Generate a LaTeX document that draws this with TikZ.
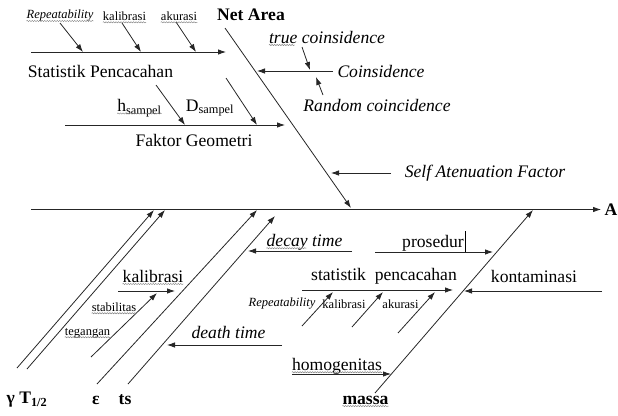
\documentclass[tikz,border=0pt]{standalone}
\usepackage{fontspec}
\setmainfont{Liberation Serif}
\usetikzlibrary{arrows.meta,decorations.pathmorphing}
\begin{document}
\begin{tikzpicture}[x=1pt,y=-1pt,
  ln/.style={line width=0.8pt, draw=black!85},
  arr/.style={ln, -{Latex[length=8pt,width=5.5pt]}},
  big/.style={font=\fontsize{17.6}{20}\selectfont, inner sep=0},
  bigi/.style={font=\fontsize{17.6}{20}\selectfont\itshape, inner sep=0},
  bigb/.style={font=\fontsize{17.6}{20}\selectfont\bfseries, inner sep=0},
  sm/.style={font=\fontsize{12.5}{14}\selectfont, inner sep=0},
  smi/.style={font=\fontsize{12.5}{14}\selectfont\itshape, inner sep=0},
  wavy/.style={draw=gray, line width=0.45pt, decorate, decoration={snake, amplitude=0.6pt, segment length=2.5pt}}
]
\useasboundingbox (0,0) rectangle (618,415);

% ---------- spine ----------
\coordinate (s0) at (31,209.5);
\coordinate (s1) at (601,209.5);
\draw[arr] (s0) -- (s1);
\node[bigb] (A) at (611,210) {A};

% ---------- Statistik Pencacahan (top) ----------
\coordinate (b1a) at (31,52); \coordinate (b1b) at (226,52);
\draw[arr] (b1a) -- (b1b);
\node[big] (sp) at (100.5,71.5) {Statistik Pencacahan};
\node[smi] (rep1) at (60,16) {Repeatability};
\node[sm] (kal1) at (124.5,16) {kalibrasi};
\node[sm] (aku1) at (179,16) {akurasi};
\coordinate (r1a) at (60,23); \coordinate (r1b) at (83,52);
\coordinate (k1a) at (122,23); \coordinate (k1b) at (141,52);
\coordinate (a1a) at (176,22); \coordinate (a1b) at (196,52);
\draw[arr] (r1a) -- (r1b);
\draw[arr] (k1a) -- (k1b);
\draw[arr] (a1a) -- (a1b);

% ---------- Net Area ----------
\node[bigb] (na) at (251,15) {Net Area};
\coordinate (n0) at (225,28); \coordinate (n1) at (351,208);
\draw[arr] (n0) -- (n1);

% ---------- Coinsidence ----------
\coordinate (c0) at (333,71); \coordinate (c1) at (257,71);
\draw[arr] (c0) -- (c1);
\node[bigi] (coin) at (381,71) {Coinsidence};
\node[bigi] (tc) at (327,37) {true coinsidence};
\coordinate (tc0) at (302,47); \coordinate (tc1) at (310,70);
\draw[arr] (tc0) -- (tc1);
\node[bigi] (rc) at (377,105) {Random coincidence};
\coordinate (rc0) at (323,95); \coordinate (rc1) at (316,77);
\draw[arr] (rc0) -- (rc1);

% ---------- Faktor Geometri ----------
\coordinate (f0) at (65,125); \coordinate (f1) at (285,125);
\draw[arr] (f0) -- (f1);
\node[big] (fg) at (194,140) {Faktor Geometri};
\node[big] (hs) at (139.5,108) {h\textsubscript{sampel}};
\node[big] (ds) at (210,108) {D\textsubscript{sampel}};
\coordinate (h0) at (156,85); \coordinate (h1) at (185,125);
\coordinate (d0) at (226,78); \coordinate (d1) at (257,125);
\draw[arr] (h0) -- (h1);
\draw[arr] (d0) -- (d1);

% ---------- Self Atenuation Factor ----------
\coordinate (sa0) at (391,173); \coordinate (sa1) at (331,173);
\draw[arr] (sa0) -- (sa1);
\node[bigi] (saf) at (485,173) {Self Atenuation Factor};

% ---------- bottom diagonals ----------
\coordinate (g0) at (17,368); \coordinate (g1) at (154,210);
\coordinate (t0) at (27,369); \coordinate (t1) at (165,210);
\coordinate (e0) at (97,384); \coordinate (e1) at (257,210);
\coordinate (ts0) at (128,384); \coordinate (ts1) at (275,216);
\draw[arr] (g0) -- (g1);
\draw[arr] (t0) -- (t1);
\draw[arr] (e0) -- (e1);
\draw[arr] (ts0) -- (ts1);
\node[bigb] (gt) at (27,400) {γ T\textsubscript{1/2}};
\node[bigb] (eps) at (96,400) {ε};
\node[bigb] (tsl) at (125,400) {ts};

% kalibrasi group
\coordinate (st0) at (91,357); \coordinate (st1) at (157,293);
\draw[arr] (st0) -- (st1);
\coordinate (ka0) at (118,291); \coordinate (ka1) at (175,291);
\draw[arr] (ka0) -- (ka1);
\node[big] (kal2) at (153,276) {kalibrasi};
\node[sm] (stab) at (114,307) {stabilitas};
\node[sm] (teg) at (87.5,333) {tegangan};

% decay time
\coordinate (dc0) at (352,251); \coordinate (dc1) at (248,251);
\draw[arr] (dc0) -- (dc1);
\node[bigi] (decay) at (304.5,242) {decay time};

% prosedur
\coordinate (p0) at (375,252); \coordinate (p1) at (493,252);
\draw[arr] (p0) -- (p1);
\node[big] (pros) at (433,243) {prosedur};
\coordinate (cur0) at (465.5,231); \coordinate (cur1) at (465.5,252);
\draw[line width=1.3pt] (cur0) -- (cur1);

% statistik pencacahan (bottom)
\coordinate (sp0) at (302,290); \coordinate (sp1) at (453,290);
\draw[arr] (sp0) -- (sp1);
\node[big] (sp2) at (384,276) {statistik\ \ pencacahan};
\node[smi] (rep2) at (282,304) {Repeatability};
\node[sm] (kal3) at (344,304) {kalibrasi};
\node[sm] (aku2) at (400.5,304) {akurasi};
\coordinate (r2a) at (302,326); \coordinate (r2b) at (333,292);
\coordinate (k2a) at (352,327); \coordinate (k2b) at (383,292);
\coordinate (a2a) at (398,333); \coordinate (a2b) at (435,292);
\draw[arr] (r2a) -- (r2b);
\draw[arr] (k2a) -- (k2b);
\draw[arr] (a2a) -- (a2b);

% kontaminasi
\coordinate (ko0) at (602,291); \coordinate (ko1) at (464,291);
\draw[arr] (ko0) -- (ko1);
\node[big] (kont) at (534,276) {kontaminasi};

% massa
\coordinate (m0) at (375,393); \coordinate (m1) at (533,210);
\draw[arr] (m0) -- (m1);
\node[bigb] (mas) at (365.5,400) {massa};

% homogenitas
\coordinate (ho0) at (292,374); \coordinate (ho1) at (391,374);
\draw[arr] (ho0) -- (ho1);
\node[big] (hom) at (337,366) {homogenitas};

% death time
\coordinate (de0) at (282,345); \coordinate (de1) at (167,345);
\draw[arr] (de0) -- (de1);
\node[bigi] (death) at (228.5,332) {death time};

% ---------- wavy spell-check underlines ----------
\foreach \n in {rep1,kal1,aku1,hs,kal2,stab,teg,hom,mas}{
  \draw[wavy] ([yshift=-2pt]\n.base west) -- ([yshift=-2pt]\n.base east);
}
\draw[wavy] ([yshift=-2pt]tc.base west) -- ++(26,0);
\draw[wavy] ([yshift=-2pt]decay.base west) -- ++(40,0);
\end{tikzpicture}
\end{document}
